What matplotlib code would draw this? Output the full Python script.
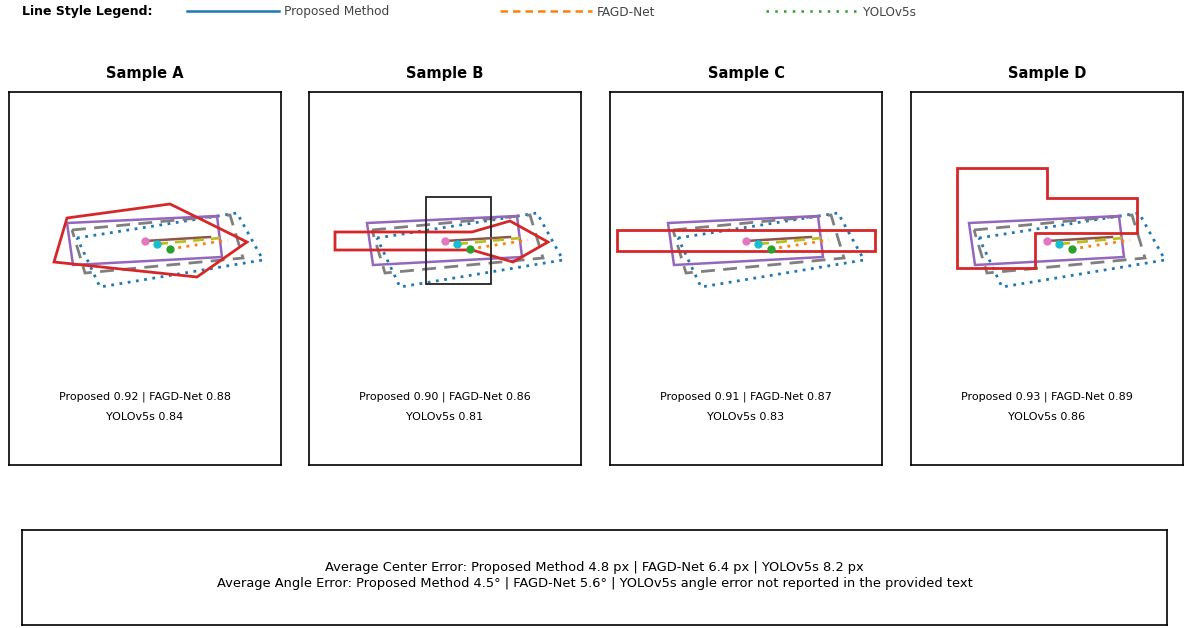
import matplotlib.pyplot as plt
from matplotlib.lines import Line2D
from matplotlib.patches import Polygon

# panel frame (image-like coords, y down)
frame_w, frame_h = 272, 373

samples = ["Sample A", "Sample B", "Sample C", "Sample D"]
score_proposed = [0.92, 0.90, 0.91, 0.93]
score_fagd = [0.88, 0.86, 0.87, 0.89]
score_yolo = [0.84, 0.81, 0.83, 0.86]

# boxes shared by all samples
box_yolo = [(68, 146), (228, 121), (254, 168), (91, 195)]
box_fagd = [(63, 138), (221, 123), (234, 166), (76, 181)]
box_proposed = [(58, 131), (208, 124), (213, 165), (64, 173)]

# centers and heading lines
gt_center = (136, 149)
gt_head = (201, 145)
prop_center = (148, 152)
prop_head = (211, 146)
yolo_center = (161, 157)
yolo_head = (219, 148)

# ground-truth outlines (red), one per sample
gt_shapes = [
    [(58, 126), (161, 112), (238, 150), (188, 185), (45, 170)],
    [(26, 140), (163, 140), (201, 129), (239, 150), (204, 170), (163, 158), (26, 158)],
    [(7, 138), (265, 138), (265, 159), (7, 159)],
    [(46, 76), (136, 76), (136, 106), (226, 106), (226, 141), (124, 141), (124, 176), (46, 176)],
]
# extra crop box in sample B
crop_box_b = [(117, 105), (182, 105), (182, 192), (117, 192)]

center_err = {"Proposed Method": 4.8, "FAGD-Net": 6.4, "YOLOv5s": 8.2}
angle_err = {"Proposed Method": 4.5, "FAGD-Net": 5.6}

fig = plt.figure(figsize=(11.86, 6.28), dpi=100)

lefts = [9, 309, 610, 911]
for i, name in enumerate(samples):
    ax = fig.add_axes([lefts[i] / 1186, 1 - 465 / 628, 272 / 1186, 373 / 628])
    ax.set_xlim(0, frame_w)
    ax.set_ylim(frame_h, 0)
    ax.set_xticks([])
    ax.set_yticks([])
    for s in ax.spines.values():
        s.set_linewidth(1.2)
    ax.set_title(name, fontsize=10.5, fontweight="bold", pad=10)

    ax.add_patch(Polygon(box_yolo, closed=True, fill=False, ec="tab:blue", lw=2.0, ls=(0, (1, 2))))
    ax.add_patch(Polygon(box_fagd, closed=True, fill=False, ec="tab:gray", lw=2.0, ls=(0, (5, 3))))
    ax.add_patch(Polygon(box_proposed, closed=True, fill=False, ec="tab:purple", lw=1.8))
    ax.add_patch(Polygon(gt_shapes[i], closed=True, fill=False, ec="tab:red", lw=2.0))
    if i == 1:
        ax.add_patch(Polygon(crop_box_b, closed=True, fill=False, ec="#222222", lw=1.3))

    ax.plot([gt_center[0], gt_head[0]], [gt_center[1], gt_head[1]], color="tab:brown", lw=1.8)
    ax.plot([prop_center[0], prop_head[0]], [prop_center[1], prop_head[1]], color="tab:olive", lw=2.0, ls=(0, (4, 2.5)))
    ax.plot([yolo_center[0], yolo_head[0]], [yolo_center[1], yolo_head[1]], color="tab:orange", lw=2.0, ls=(0, (1, 2)))
    ax.plot(*gt_center, "o", color="tab:pink", ms=5)
    ax.plot(*prop_center, "o", color="tab:cyan", ms=5)
    ax.plot(*yolo_center, "o", color="tab:green", ms=5)

    ax.text(frame_w / 2, 305, f"Proposed {score_proposed[i]:.2f} | FAGD-Net {score_fagd[i]:.2f}",
            ha="center", va="center", fontsize=8)
    ax.text(frame_w / 2, 325, f"YOLOv5s {score_yolo[i]:.2f}", ha="center", va="center", fontsize=8)

# summary box
sax = fig.add_axes([22 / 1186, 3 / 628, 1145 / 1186, 95 / 628])
sax.set_xticks([])
sax.set_yticks([])
for s in sax.spines.values():
    s.set_linewidth(1.2)
line1 = "Average Center Error: " + " | ".join(f"{k} {v} px" for k, v in center_err.items())
line2 = ("Average Angle Error: " + " | ".join(f"{k} {v}°" for k, v in angle_err.items())
         + " | YOLOv5s angle error not reported in the provided text")
sax.text(0.5, 0.61, line1, ha="center", va="center", fontsize=9.4, transform=sax.transAxes)
sax.text(0.5, 0.44, line2, ha="center", va="center", fontsize=9.4, transform=sax.transAxes)

# legend strip
handles = [
    Line2D([], [], color="tab:blue", lw=1.8, ls="-"),
    Line2D([], [], color="tab:orange", lw=1.8, ls=(0, (3, 2))),
    Line2D([], [], color="tab:green", lw=1.8, ls=(0, (1, 2.5))),
]
fig.text(22 / 1186, 1 - 12 / 628, "Line Style Legend:", fontsize=9, fontweight="bold", va="center")
leg = fig.legend(handles, ["Proposed Method", "FAGD-Net", "YOLOv5s"], ncol=3,
                 loc="center left", bbox_to_anchor=(187 / 1186, 1 - 12 / 628),
                 frameon=False, fontsize=8.7, handlelength=7.6, handletextpad=0.4,
                 columnspacing=9.2, borderpad=0, borderaxespad=0)
for t in leg.get_texts():
    t.set_color("#444444")

fig.savefig("out.png", dpi=100)
